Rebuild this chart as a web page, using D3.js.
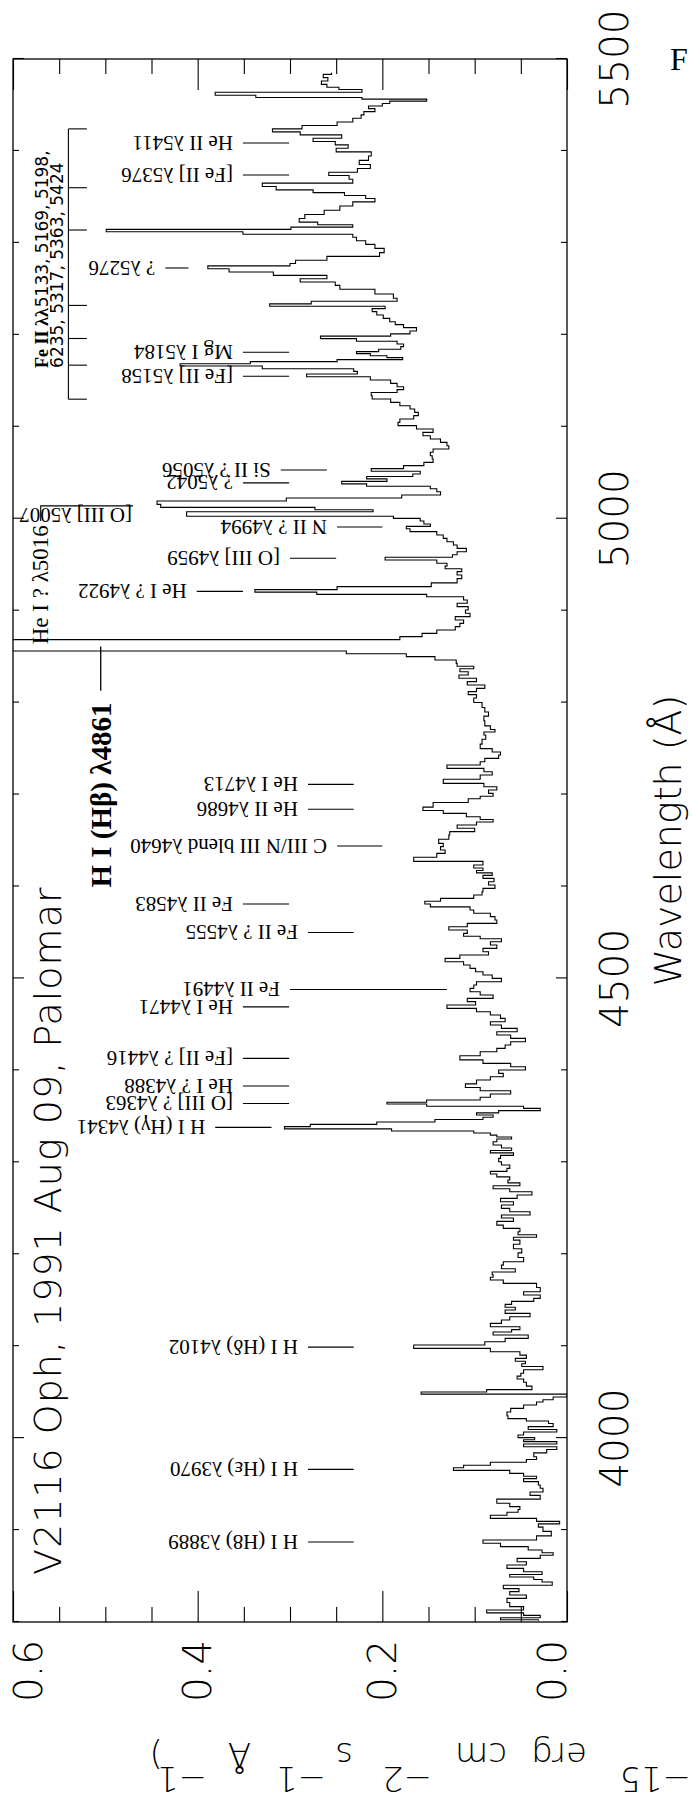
<!DOCTYPE html>
<html><head><meta charset="utf-8">
<script src="https://cdn.jsdelivr.net/npm/d3@7"></script>
<style>body{margin:0;background:#fff;} svg{display:block;}</style>
</head><body>
<svg id="chart" width="692" height="1800"></svg>
<script>
// ---------- data ----------
const wavelength = [
3801.4,3803.6,3805.8,3808.7,3811.2,3814.9,3818.5,3823.9,3827.6,3831.2,
3834.8,3837.7,3842.1,3845.0,3847.5,3850.4,3852.9,3856.5,3860.2,3863.8,
3867.4,3871.1,3874.0,3876.5,3880.1,3883.8,3887.4,3891.0,3896.4,3900.8,
3905.5,3908.0,3910.9,3914.6,3917.5,3921.1,3923.6,3927.3,3930.9,3936.3,
3939.2,3943.6,3947.2,3950.8,3954.5,3957.3,3959.9,3963.5,3966.4,3969.0,
3971.9,3975.5,3978.0,3981.6,3986.4,3988.9,3992.2,3995.1,3997.2,3999.4,
4001.6,4005.2,4008.1,4010.6,4014.3,4017.5,4019.7,4022.6,4026.2,4030.6,
4034.2,4037.8,4040.7,4042.9,4046.5,4049.1,4051.3,4054.2,4058.9,4062.5,
4066.1,4068.7,4072.3,4076.5,4079.4,4082.4,4084.9,4088.5,4092.1,4095.8,
4099.4,4103.0,4106.6,4110.3,4113.9,4116.8,4119.3,4123.0,4126.6,4130.2,
4133.8,4137.5,4141.1,4143.6,4147.3,4150.1,4153.8,4157.4,4161.0,4166.5,
4170.1,4173.7,4176.3,4179.2,4182.0,4186.4,4190.0,4193.7,4199.1,4203.8,
4208.2,4213.6,4217.2,4219.8,4222.7,4226.3,4229.9,4233.5,4237.9,4240.8,
4244.4,4248.1,4251.7,4255.3,4258.9,4262.6,4266.2,4269.8,4272.7,4276.3,
4278.9,4282.5,4285.8,4288.7,4291.6,4295.2,4298.8,4302.4,4306.1,4309.0,
4311.5,4314.0,4317.0,4320.6,4324.2,4326.4,4328.5,4330.7,4332.9,4335.1,
4337.6,4340.1,4342.3,4345.2,4347.8,4350.3,4352.5,4355.0,4357.5,4359.7,
4362.3,4364.4,4366.2,4369.2,4372.4,4376.0,4379.7,4382.9,4387.7,4391.3,
4394.9,4398.5,4402.2,4405.8,4409.4,4413.4,4418.5,4422.1,4425.7,4429.3,
4433.0,4436.6,4440.2,4443.8,4447.5,4451.1,4454.7,4458.3,4462.0,4465.6,
4469.2,4472.9,4476.5,4480.1,4483.7,4487.4,4491.0,4494.6,4498.2,4501.9,
4505.5,4509.1,4512.7,4516.4,4520.0,4523.6,4527.2,4530.9,4534.5,4538.1,
4541.7,4544.6,4547.2,4550.8,4554.4,4558.1,4561.7,4565.3,4569.0,4572.6,
4576.2,4579.5,4582.4,4585.3,4588.9,4592.5,4596.1,4599.8,4603.4,4607.0,
4610.6,4613.5,4616.1,4618.6,4621.5,4625.1,4629.5,4634.2,4637.8,4641.5,
4645.1,4648.7,4654.1,4657.8,4661.5,4665.0,4668.7,4671.6,4674.1,4677.7,
4681.3,4683.9,4688.6,4694.0,4696.9,4699.5,4703.1,4706.7,4710.3,4714.0,
4719.4,4723.0,4726.7,4730.3,4733.9,4737.5,4741.2,4744.8,4747.7,4752.1,
4757.5,4762.9,4766.6,4769.5,4772.0,4777.4,4782.9,4787.6,4791.9,4797.4,
4802.8,4807.2,4810.1,4813.7,4817.3,4820.9,4824.6,4828.2,4831.8,4835.4,
4838.3,4840.9,4844.5,4848.1,4851.8,4854.3,4857.9,4862.6,4867.0,4869.9,
4873.5,4877.1,4880.8,4884.4,4888.0,4891.6,4895.3,4898.9,4902.5,4906.2,
4909.8,4913.4,4916.7,4918.8,4921.4,4924.3,4927.9,4932.6,4937.0,4940.6,
4944.2,4947.1,4949.7,4953.3,4956.9,4959.4,4962.3,4965.9,4969.6,4973.2,
4976.8,4980.4,4984.1,4987.7,4990.6,4992.8,4995.7,4999.3,5001.5,5004.0,
5006.5,5008.7,5010.9,5013.8,5017.4,5021.0,5023.9,5027.6,5031.2,5034.1,
5036.6,5039.2,5042.1,5044.6,5047.2,5050.1,5053.0,5055.9,5059.5,5063.1,
5066.7,5070.4,5074.0,5077.6,5081.2,5084.9,5088.5,5092.1,5095.7,5099.4,
5103.0,5106.6,5110.3,5113.9,5117.5,5121.1,5124.7,5128.4,5132.0,5135.6,
5138.9,5141.8,5145.4,5149.0,5152.7,5156.0,5158.8,5161.7,5164.6,5167.5,
5169.7,5171.9,5174.1,5176.2,5178.4,5180.6,5182.8,5185.7,5188.6,5191.5,
5194.4,5197.3,5199.8,5202.3,5206.0,5209.6,5212.5,5216.1,5219.7,5223.4,
5227.0,5229.9,5232.4,5235.0,5237.9,5241.5,5247.3,5252.0,5255.6,5259.2,
5262.8,5266.5,5270.1,5273.7,5276.2,5278.8,5283.5,5287.1,5291.8,5296.2,
5300.5,5304.1,5308.1,5310.7,5313.6,5315.7,5318.6,5320.8,5324.4,5328.7,
5333.1,5337.8,5342.5,5346.8,5349.7,5353.4,5355.9,5359.5,5363.1,5366.8,
5371.5,5375.1,5378.7,5383.0,5387.4,5392.1,5396.8,5401.1,5404.8,5408.4,
5412.0,5415.6,5419.3,5422.2,5425.8,5429.4,5433.7,5437.4,5441.0,5444.6,
5447.5,5450.4,5452.9,5455.5,5457.3,5459.1,5462.0,5465.6,5468.1,5470.6,
5474.3,5477.9,5481.5,5485.1
];
const flux = [
0.031,0.072,0.029,0.047,0.087,0.047,0.062,0.065,0.044,0.062,
0.052,0.069,0.016,0.027,0.036,0.062,0.027,0.047,0.065,0.044,
0.054,0.029,0.015,0.027,0.042,0.072,0.091,0.033,0.017,0.026,
0.031,0.008,0.033,0.083,0.065,0.053,0.051,0.062,0.076,0.029,
0.040,0.026,0.029,0.031,0.047,0.033,0.047,0.062,0.123,0.112,
0.083,0.044,0.033,0.036,0.022,0.011,0.047,0.011,0.047,0.035,
0.053,0.047,0.011,0.042,0.015,0.020,0.044,0.064,0.065,0.061,
0.047,0.033,0.026,0.015,0.000,0.158,0.087,0.038,0.044,0.047,
0.054,0.050,0.047,0.026,0.049,0.045,0.056,0.044,0.051,0.083,
0.166,0.089,0.067,0.042,0.080,0.060,0.051,0.083,0.071,0.062,
0.040,0.067,0.056,0.067,0.060,0.036,0.029,0.047,0.029,0.033,
0.069,0.083,0.080,0.081,0.056,0.071,0.069,0.047,0.053,0.049,
0.058,0.051,0.058,0.033,0.053,0.051,0.069,0.076,0.058,0.071,
0.040,0.062,0.071,0.058,0.072,0.054,0.038,0.062,0.080,0.051,
0.064,0.062,0.076,0.083,0.065,0.062,0.071,0.074,0.072,0.058,
0.083,0.060,0.071,0.080,0.076,0.060,0.076,0.083,0.101,0.190,
0.306,0.278,0.206,0.143,0.091,0.080,0.098,0.074,0.029,0.047,
0.152,0.195,0.152,0.094,0.083,0.061,0.094,0.110,0.098,0.083,
0.069,0.074,0.045,0.061,0.091,0.116,0.094,0.076,0.067,0.061,
0.045,0.061,0.076,0.054,0.071,0.083,0.067,0.072,0.083,0.098,
0.130,0.099,0.108,0.080,0.094,0.105,0.101,0.098,0.071,0.081,
0.091,0.099,0.105,0.112,0.132,0.116,0.085,0.091,0.076,0.083,
0.071,0.094,0.112,0.108,0.128,0.108,0.076,0.078,0.083,0.101,
0.105,0.148,0.154,0.137,0.101,0.092,0.091,0.078,0.085,0.079,
0.091,0.081,0.098,0.091,0.101,0.091,0.166,0.141,0.132,0.137,
0.134,0.139,0.128,0.127,0.100,0.119,0.098,0.080,0.094,0.109,
0.134,0.156,0.145,0.107,0.094,0.080,0.085,0.076,0.090,0.134,
0.094,0.081,0.090,0.130,0.094,0.089,0.074,0.072,0.081,0.094,
0.092,0.088,0.090,0.078,0.083,0.089,0.090,0.085,0.089,0.092,
0.101,0.098,0.107,0.098,0.089,0.108,0.098,0.117,0.107,0.116,
0.101,0.119,0.120,0.143,0.174,0.239,0.700,0.950,0.700,0.181,
0.157,0.141,0.121,0.116,0.112,0.121,0.105,0.110,0.107,0.119,
0.108,0.112,0.152,0.271,0.338,0.249,0.147,0.119,0.114,0.119,
0.114,0.132,0.130,0.141,0.197,0.124,0.119,0.109,0.119,0.123,
0.130,0.134,0.141,0.170,0.174,0.148,0.155,0.159,0.188,0.412,
0.412,0.210,0.273,0.440,0.444,0.304,0.179,0.137,0.141,0.148,
0.217,0.244,0.195,0.217,0.167,0.159,0.212,0.177,0.155,0.145,
0.146,0.148,0.145,0.128,0.130,0.137,0.148,0.156,0.145,0.163,
0.183,0.181,0.166,0.161,0.165,0.170,0.181,0.191,0.211,0.212,
0.184,0.177,0.184,0.191,0.213,0.282,0.227,0.231,0.330,0.419,
0.343,0.249,0.178,0.195,0.213,0.228,0.204,0.180,0.177,0.184,
0.228,0.267,0.191,0.170,0.163,0.177,0.186,0.192,0.199,0.206,
0.211,0.197,0.322,0.277,0.184,0.188,0.208,0.246,0.251,0.289,
0.260,0.318,0.366,0.389,0.300,0.294,0.260,0.203,0.198,0.208,
0.218,0.228,0.232,0.351,0.499,0.299,0.232,0.270,0.290,0.284,
0.263,0.246,0.232,0.208,0.218,0.241,0.275,0.315,0.330,0.232,
0.236,0.258,0.227,0.213,0.225,0.215,0.212,0.250,0.237,0.251,
0.275,0.244,0.289,0.319,0.287,0.249,0.232,0.223,0.220,0.208,
0.215,0.200,0.192,0.152,0.222,0.337,0.381,0.222,0.247,0.260,
0.266,0.259,0.264,0.255
];

const waveDomain = [3800, 5500];
const fluxDomain = [0, 0.6];
const waveMajorTicks = [4000, 4500, 5000, 5500];
const waveMinorTicks = [3800, 3900, 4100, 4200, 4300, 4400, 4600, 4700, 4800, 4900, 5100, 5200, 5300, 5400];
const fluxMajorTicks = [0, 0.2, 0.4, 0.6];
const fluxMinorTicks = [0.05, 0.1, 0.15, 0.25, 0.3, 0.35, 0.45, 0.5, 0.55];

const lineLabels = ["He II λ5411", "[Fe II] λ5376", "? λ5276", "Mg I λ5184", "[Fe II] λ5158",
  "Si II ? λ5056", "? λ5042", "N II ? λ4994", "[O III] λ4959", "He I ? λ4922",
  "He I λ4713", "He II λ4686", "C III/N III blend λ4640", "Fe II λ4583", "Fe II ? λ4555",
  "Fe II λ4491", "He I λ4471", "[Fe II] ? λ4416", "He I ? λ4388", "[O III] ? λ4363",
  "H I (Hγ) λ4341", "H I (Hδ) λ4102", "H I (Hε) λ3970", "H I (H8) λ3889"];
const lineWaves = [5408.6, 5373.8, 5272.7, 5181, 5155,
  5053, 5039, 4991, 4957, 4921,
  4711, 4684, 4644, 4581, 4550,
  4488, 4469, 4413, 4383, 4364,
  4338, 4099, 3966, 3887];
const lineFrom = [0.351, 0.351, 0.435, 0.351, 0.351,
  0.310, 0.351, 0.249, 0.300, 0.401,
  0.2805, 0.2805, 0.249, 0.351, 0.2805,
  0.300, 0.351, 0.351, 0.351, 0.351,
  0.381, 0.2805, 0.2805, 0.2805];
const lineTo = [0.301, 0.301, 0.410, 0.301, 0.301,
  0.260, 0.301, 0.200, 0.250, 0.351,
  0.231, 0.231, 0.200, 0.301, 0.231,
  0.130, 0.301, 0.301, 0.301, 0.301,
  0.320, 0.231, 0.231, 0.231];

const feIIWaves = [5424, 5360, 5314, 5232, 5196, 5167, 5130];
const feIILine1 = ["Fe II λλ", "5133, 5169, 5198,"];
const feIILine2 = "6235, 5317, 5363, 5424";

const titleText = "V2116 Oph, 1991 Aug 09, Palomar";
const xTitle = "Wavelength (Å)";

// ---------- layout ----------
const svg = d3.select("#chart");
const W = 1563, H = 554;               // landscape plot size (rotated onto the page)
const sans = "'DejaVu Sans', 'Liberation Sans', sans-serif";
const serif = "'Liberation Serif', 'DejaVu Serif', serif";

const g = svg.append("g").attr("transform", "translate(13,1622) rotate(-90)");
const x = d3.scaleLinear().domain(waveDomain).range([0, W]);
const y = d3.scaleLinear().domain(fluxDomain).range([H, 0]);

g.append("clipPath").attr("id", "plotclip")
  .append("rect").attr("x", 0).attr("y", 0).attr("width", W).attr("height", H);

// spectrum
const pts = d3.zip(wavelength, flux);
const line = d3.line().x(d => x(d[0])).y(d => y(d[1])).curve(d3.curveStep);
g.append("path").datum(pts)
  .attr("clip-path", "url(#plotclip)")
  .attr("d", line)
  .attr("fill", "none").attr("stroke", "#000").attr("stroke-width", 1.1);

// axes ticks (all four sides, pointing inward)
function tickSide(gen, vals, len, tr) {
  g.append("g").attr("transform", tr)
    .call(gen.tickValues(vals).tickSize(-len).tickSizeOuter(0).tickFormat(""))
    .call(s => s.select(".domain").remove())
    .call(s => s.selectAll("line").attr("stroke", "#000").attr("stroke-width", 1.1));
}
tickSide(d3.axisBottom(x), waveMajorTicks, 11, `translate(0,${H})`);
tickSide(d3.axisBottom(x), waveMinorTicks, 6, `translate(0,${H})`);
tickSide(d3.axisTop(x), waveMajorTicks, 11, "translate(0,0)");
tickSide(d3.axisTop(x), waveMinorTicks, 6, "translate(0,0)");
tickSide(d3.axisLeft(y), fluxMajorTicks, 31, "translate(0,0)");
tickSide(d3.axisLeft(y), fluxMinorTicks, 15, "translate(0,0)");
tickSide(d3.axisRight(y), fluxMajorTicks, 31, `translate(${W},0)`);
tickSide(d3.axisRight(y), fluxMinorTicks, 15, `translate(${W},0)`);

g.append("rect").attr("x", 0).attr("y", 0).attr("width", W).attr("height", H)
  .attr("fill", "none").attr("stroke", "#000").attr("stroke-width", 1.3);

// tick labels
g.selectAll(".wl").data(waveMajorTicks).join("text")
  .attr("x", d => x(d)).attr("y", H + 61)
  .attr("text-anchor", "middle")
  .attr("font-family", sans).attr("font-weight", 200).attr("font-size", 39)
  .text(d => d);
g.selectAll(".fl").data(fluxMajorTicks).join("text")
  .attr("x", -18).attr("y", d => Math.min(H - 15, Math.max(15, y(d))))
  .attr("dy", "0.35em").attr("text-anchor", "end")
  .attr("font-family", sans).attr("font-weight", 200).attr("font-size", 39)
  .text(d => d.toFixed(1));

// axis title & plot title
g.append("text").attr("x", W / 2).attr("y", H + 114).attr("text-anchor", "middle")
  .attr("font-family", sans).attr("font-weight", 200).attr("font-size", 38)
  .text(xTitle);
g.append("text").attr("x", 47).attr("y", 48)
  .attr("font-family", sans).attr("font-weight", 200).attr("font-size", 38)
  .attr("letter-spacing", 1)
  .text(titleText);

// line identifications
const lab = g.append("g").attr("font-family", serif).attr("font-size", 21).attr("fill", "#000");
lineLabels.forEach((t, i) => {
  lab.append("line")
    .attr("x1", x(lineWaves[i])).attr("x2", x(lineWaves[i]))
    .attr("y1", y(lineFrom[i])).attr("y2", y(lineTo[i]))
    .attr("stroke", "#000").attr("stroke-width", 1.1);
  lab.append("text")
    .attr("transform", `translate(${x(lineWaves[i])},${y(lineFrom[i]) - 10}) rotate(-90)`)
    .attr("dy", "0.35em")
    .text(t);
});

// [O III] 5007 (text only)
lab.append("text")
  .attr("transform", `translate(${x(5004)},${y(0.471)}) rotate(-90)`)
  .attr("dy", "0.35em").text("[O III] λ5007");

// He I ? 5016 bracket label
lab.append("path")
  .attr("d", `M${x(4997.6)},${y(0.570)}L${x(5014)},${y(0.570)}L${x(5014)},${y(0.470)}`)
  .attr("fill", "none").attr("stroke", "#000").attr("stroke-width", 1.1);
lab.append("text").attr("x", x(4993)).attr("y", y(0.571)).attr("dy", "0.35em")
  .attr("text-anchor", "end").attr("font-size", 23).text("He I ? λ5016");

// H beta label
lab.append("line").attr("x1", x(4813)).attr("x2", x(4861))
  .attr("y1", y(0.505)).attr("y2", y(0.505))
  .attr("stroke", "#000").attr("stroke-width", 1.3);
lab.append("text").attr("x", x(4800)).attr("y", y(0.505)).attr("dy", "0.35em")
  .attr("text-anchor", "end").attr("font-size", 29).attr("font-weight", "bold")
  .text("H I (Hβ) λ4861");

// Fe II bracket
const ext = d3.extent(feIIWaves);
lab.append("line").attr("x1", x(ext[0])).attr("x2", x(ext[1]))
  .attr("y1", y(0.540)).attr("y2", y(0.540))
  .attr("stroke", "#000").attr("stroke-width", 1.1);
lab.selectAll(".fet").data(feIIWaves).join("line")
  .attr("x1", d => x(d)).attr("x2", d => x(d))
  .attr("y1", y(0.540)).attr("y2", y(0.520))
  .attr("stroke", "#000").attr("stroke-width", 1.1);
const fe1 = lab.append("text").attr("x", x(5164)).attr("y", y(0.562)).attr("font-size", 18);
fe1.append("tspan").attr("font-weight", "bold").text(feIILine1[0]);
fe1.append("tspan").attr("font-family", sans).attr("font-size", 17).attr("dx", 1).text(feIILine1[1]);
lab.append("text").attr("x", x(5164)).attr("y", y(0.546))
  .attr("font-family", sans).attr("font-size", 17).text(feIILine2);

// page-level text: flux axis title (upside down, cut at page edge) and corner "F"
const yt = svg.append("text")
  .attr("transform", "translate(692,1743) rotate(180)")
  .attr("font-family", sans).attr("font-weight", 200).attr("font-size", 34);
const pieces = [["−15", 1, -24], ["erg", 105, 0], ["cm", 185, 0], ["−2", 260, -24],
  ["s", 339, 0], ["−1", 366, -24], ["Å", 441, 0], ["−1", 485, -24], [")", 529, 0]];
pieces.forEach(p => yt.append("tspan").attr("x", p[1]).attr("y", p[2]).text(p[0]));

svg.append("text").attr("x", 670).attr("y", 70)
  .attr("font-family", serif).attr("font-size", 32).text("F");
</script>
</body></html>
